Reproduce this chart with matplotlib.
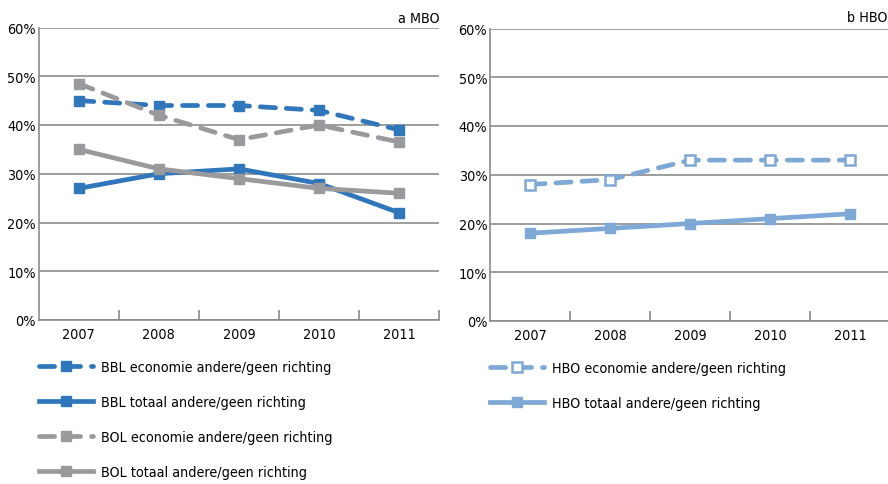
import matplotlib.pyplot as plt
from matplotlib.ticker import PercentFormatter

plt.rcParams['font.family'] = ['DejaVu Sans']
plt.rcParams['font.stretch'] = 'condensed'

years = ['2007', '2008', '2009', '2010', '2011']

bbl_econ = [45, 44, 44, 43, 39]
bbl_tot = [27, 30, 31, 28, 22]
bol_econ = [48.5, 42, 37, 40, 36.5]
bol_tot = [35, 31, 29, 27, 26]

hbo_econ = [28, 29, 33, 33, 33]
hbo_tot = [18, 19, 20, 21, 22]

blue = '#2f76bb'
grey = '#9a9a9d'
lblue = '#7ea8d5'
axcol = '#8c8c8c'

fig = plt.figure(figsize=(8.88, 4.85), dpi=100)
ax1 = fig.add_axes([38.7/888, 1-321/485, 400.5/888, 292.5/485])
ax2 = fig.add_axes([490/888, 1-322/485, 400.5/888, 292.5/485])

x = range(len(years))
lw = 3.4
ms = 7.2
dash = (3.2, 2.3)
fs = 10.3
dkw = dict(ls=(0, dash), dash_capstyle='round')

ax1.plot(x, bbl_econ, color=blue, lw=lw, marker='s', ms=ms,
         label='BBL economie andere/geen richting', **dkw)
ax1.plot(x, bbl_tot, color=blue, lw=lw, marker='s', ms=ms,
         label='BBL totaal andere/geen richting')
ax1.plot(x, bol_econ, color=grey, lw=lw, marker='s', ms=ms,
         label='BOL economie andere/geen richting', **dkw)
ax1.plot(x, bol_tot, color=grey, lw=lw, marker='s', ms=ms,
         label='BOL totaal andere/geen richting')

ax2.plot(x, hbo_econ, color=lblue, lw=lw, marker='s', ms=ms,
         mfc='white', mec=lblue, mew=1.8, label='HBO economie andere/geen richting', **dkw)
ax2.plot(x, hbo_tot, color=lblue, lw=lw, marker='s', ms=ms,
         label='HBO totaal andere/geen richting')

for ax in [ax1, ax2]:
    ax.set_xlim(-0.5, 4.5)
    ax.set_ylim(0, 60)
    ax.set_yticks(range(0, 61, 10))
    ax.yaxis.set_major_formatter(PercentFormatter(decimals=0))
    ax.set_xticks(list(x))
    ax.set_xticklabels(years)
    ax.set_xticks([0.5, 1.5, 2.5, 3.5, 4.5], minor=True)
    ax.tick_params(axis='x', which='major', length=0, pad=5, labelsize=fs)
    ax.tick_params(axis='x', which='minor', direction='in', length=7, color=axcol, width=1.2)
    ax.tick_params(axis='y', length=0, pad=2, labelsize=fs)
    ax.grid(axis='y', color=axcol, lw=1.2)
    ax.set_axisbelow(True)
    for s in ['top', 'right']:
        ax.spines[s].set_visible(False)
    for s in ['left', 'bottom']:
        ax.spines[s].set_color(axcol)
        ax.spines[s].set_linewidth(1.2)
    ax.legend(loc='upper left', bbox_to_anchor=(0.0, -0.137), frameon=False,
              fontsize=fs, handlelength=3.8, handletextpad=0.55,
              labelspacing=1.47, borderaxespad=0, borderpad=0)

ax1.set_title('a MBO', loc='right', fontsize=fs, pad=4)
fig.text(887/888, 1-22/485, 'b HBO', ha='right', va='baseline', fontsize=fs)

fig.savefig('out.png', dpi=100)
